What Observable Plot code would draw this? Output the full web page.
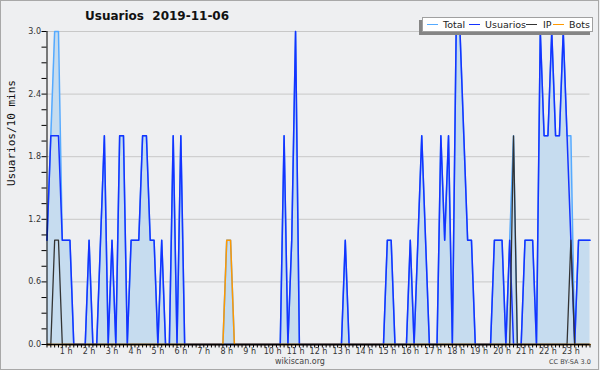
<!DOCTYPE html>
<html>
<head>
<meta charset="utf-8">
<script src="https://cdn.jsdelivr.net/npm/d3@7"></script>
<script src="https://cdn.jsdelivr.net/npm/@observablehq/plot@0.6"></script>
<style>
  body { margin: 0; background: #eeeff1; }
  #wrap { position: relative; width: 600px; height: 370px; background: #eeeff1; overflow: hidden; font-family: "DejaVu Sans", sans-serif; }
  #chart { position: absolute; left: 0; top: 0; }
  #frame { position: absolute; left: 0; top: 0; width: 599px; height: 370px; box-sizing: border-box; border: 1px solid #a8a8a8; pointer-events: none; }
  #title { position: absolute; left: 85px; top: 9px; font: bold 12px "DejaVu Sans", sans-serif; line-height: 14px; color: #111; white-space: pre; }
  #legend { position: absolute; left: 422px; top: 17px; width: 171px; height: 15px; box-sizing: border-box; background: #fff; border: 1px solid #a0a0a0; box-shadow: -3px 3px 0 #858585; }
  #legend .sw { position: absolute; top: 6px; width: 11px; height: 0; border-top: 1.5px solid; }
  #legend .tx { position: absolute; top: 0; font: 9.5px "DejaVu Sans", sans-serif; line-height: 13px; color: #222; white-space: nowrap; }
  #site { position: absolute; left: 250px; width: 100px; text-align: center; top: 356px; font: 8px "DejaVu Sans", sans-serif; line-height: 11px; color: #444; }
  #lic { position: absolute; left: 549px; top: 358px; font: 6.5px "DejaVu Sans", sans-serif; line-height: 9px; color: #444; white-space: nowrap; }
</style>
</head>
<body>
<div id="wrap">
  <div id="chart"></div>
  <div id="title"></div>
  <div id="legend"></div>
  <div id="site">wikiscan.org</div>
  <div id="lic">CC BY-SA 3.0</div>
  <div id="frame"></div>
</div>
<script>
// Title and series names
const titleText = "Usuarios  2019-11-06";
const yLabel = "Usuarios/10 mins";
const seriesNames = ["Total", "Usuarios", "IP", "Bots"];
const seriesColors = ["#55aaff", "#1433ff", "#333333", "#ff9900"];

// 10-minute slots from 00:10 to 23:50 (143 values)
const usuarios = [
  1,2,2,2,1,1,1,0,0,0,0,1,
  0,0,1,2,0,1,0,2,2,0,1,1,
  1,2,2,1,1,0,1,0,0,2,0,2,
  0,0,0,0,0,0,0,0,0,0,0,0,
  0,0,0,0,0,0,0,0,0,0,0,0,
  0,0,2,0,1,3,0,0,0,0,0,0,
  0,0,0,0,0,0,1,0,0,0,0,0,
  0,0,0,0,0,1,1,0,0,0,0,1,
  0,1,2,1,0,0,0,2,1,2,0,3,
  3,2,1,1,0,0,0,0,0,1,1,1,
  0,1,0,0,0,1,1,1,0,3,2,2,
  3,2,2,3,2,1,0,1,1,1,1
];
const ip = [
  0,0,1,1,0,0,0,0,0,0,0,0,
  0,0,0,0,0,0,0,0,0,0,0,0,
  0,0,0,0,0,0,0,0,0,0,0,0,
  0,0,0,0,0,0,0,0,0,0,0,0,
  0,0,0,0,0,0,0,0,0,0,0,0,
  0,0,0,0,0,0,0,0,0,0,0,0,
  0,0,0,0,0,0,0,0,0,0,0,0,
  0,0,0,0,0,0,0,0,0,0,0,0,
  0,0,0,0,0,0,0,0,0,0,0,0,
  0,0,0,0,0,0,0,0,0,0,0,0,
  0,0,2,0,0,0,0,0,0,0,0,0,
  0,0,0,0,0,1,0,0,0,0,0
];
const bots = [
  0,0,0,0,0,0,0,0,0,0,0,0,
  0,0,0,0,0,0,0,0,0,0,0,0,
  0,0,0,0,0,0,0,0,0,0,0,0,
  0,0,0,0,0,0,0,0,0,0,0,1,
  1,0,0,0,0,0,0,0,0,0,0,0,
  0,0,0,0,0,0,0,0,0,0,0,0,
  0,0,0,0,0,0,0,0,0,0,0,0,
  0,0,0,0,0,0,0,0,0,0,0,0,
  0,0,0,0,0,0,0,0,0,0,0,0,
  0,0,0,0,0,0,0,0,0,0,0,0,
  0,0,0,0,0,0,0,0,0,0,0,0,
  0,0,0,0,0,0,0,0,0,0,0
];
const total = [
  1,2,3,3,1,1,1,0,0,0,0,1,
  0,0,1,2,0,1,0,2,2,0,1,1,
  1,2,2,1,1,0,1,0,0,2,0,2,
  0,0,0,0,0,0,0,0,0,0,0,1,
  1,0,0,0,0,0,0,0,0,0,0,0,
  0,0,2,0,1,3,0,0,0,0,0,0,
  0,0,0,0,0,0,1,0,0,0,0,0,
  0,0,0,0,0,1,1,0,0,0,0,1,
  0,1,2,1,0,0,0,2,1,2,0,3,
  3,2,1,1,0,0,0,0,0,1,1,1,
  0,1,2,0,0,1,1,1,0,3,2,2,
  3,2,2,3,2,2,0,1,1,1,1
];

// Axis tick labels
const hourLabels = ["1 h","2 h","3 h","4 h","5 h","6 h","7 h","8 h","9 h","10 h","11 h","12 h",
                    "13 h","14 h","15 h","16 h","17 h","18 h","19 h","20 h","21 h","22 h","23 h"];
const yTickLabels = [0, 0.6, 1.2, 1.8, 2.4, 3.0];

// Build rows (minute of day at the end of each 10-min slot)
const minutes = usuarios.map((_, i) => 10 + 10 * i);
const rows = minutes.map((m, i) => ({m, total: total[i], usuarios: usuarios[i], ip: ip[i], bots: bots[i]}));
const hourMinutes = hourLabels.map((_, i) => (i + 1) * 60);
const minorY = d3.range(0, 21).map(i => i * 0.15);

const chart = Plot.plot({
  width: 600,
  height: 370,
  marginLeft: 46.5,
  marginRight: 10.5,
  marginTop: 31,
  marginBottom: 26,
  style: {background: "transparent", fontFamily: "DejaVu Sans, sans-serif", fontSize: "8px", color: "#222"},
  x: {domain: [10, 1430], axis: null, label: null},
  y: {domain: [0, 3], axis: null, label: null},
  marks: [
    Plot.ruleY(yTickLabels.filter(v => v > 0), {stroke: "#c8c8c8", strokeWidth: 1}),
    Plot.areaY(rows, {x: "m", y: "total", fill: "#c6dcef"}),
    Plot.lineY(rows, {x: "m", y: "total", stroke: seriesColors[0], strokeWidth: 1.5}),
    Plot.lineY(rows, {x: "m", y: "usuarios", stroke: seriesColors[1], strokeWidth: 1.5}),
    Plot.lineY(rows, {x: "m", y: "ip", stroke: seriesColors[2], strokeWidth: 1.3}),
    Plot.lineY(rows, {x: "m", y: "bots", stroke: seriesColors[3], strokeWidth: 1.5}),
    Plot.axisY({ticks: minorY, tickSize: 5, tickFormat: () => "", stroke: "#000", label: null}),
    Plot.axisY({ticks: yTickLabels, tickSize: 0, tickPadding: 6, tickFormat: d3.format(".1f"), fill: "#333", label: null}),
    Plot.axisX({ticks: minutes, tickSize: 3.5, tickFormat: () => "", stroke: "#000", label: null}),
    Plot.axisX({ticks: hourMinutes, tickSize: 0, tickPadding: 3.5, tickFormat: m => hourLabels[m / 60 - 1], fill: "#333", label: null}),
    Plot.ruleX([10], {stroke: "#000", strokeWidth: 1}),
    Plot.ruleY([0], {stroke: "#000", strokeWidth: 1.3}),
    Plot.text([yLabel], {frameAnchor: "left", dx: -36, dy: -2, rotate: -90, fontFamily: "DejaVu Sans Mono, monospace", fontSize: 11, fill: "#111"})
  ]
});
document.getElementById("chart").appendChild(chart);

// Title
document.getElementById("title").textContent = titleText;

// Legend
const legendPos = [[4, 20], [46, 62], [103, 120], [130, 146]];
const legend = document.getElementById("legend");
seriesNames.forEach((name, i) => {
  const sw = document.createElement("div");
  sw.className = "sw";
  sw.style.left = legendPos[i][0] + "px";
  sw.style.borderTopColor = seriesColors[i];
  legend.appendChild(sw);
  const tx = document.createElement("div");
  tx.className = "tx";
  tx.style.left = legendPos[i][1] + "px";
  tx.textContent = name;
  legend.appendChild(tx);
});
</script>
</body>
</html>
